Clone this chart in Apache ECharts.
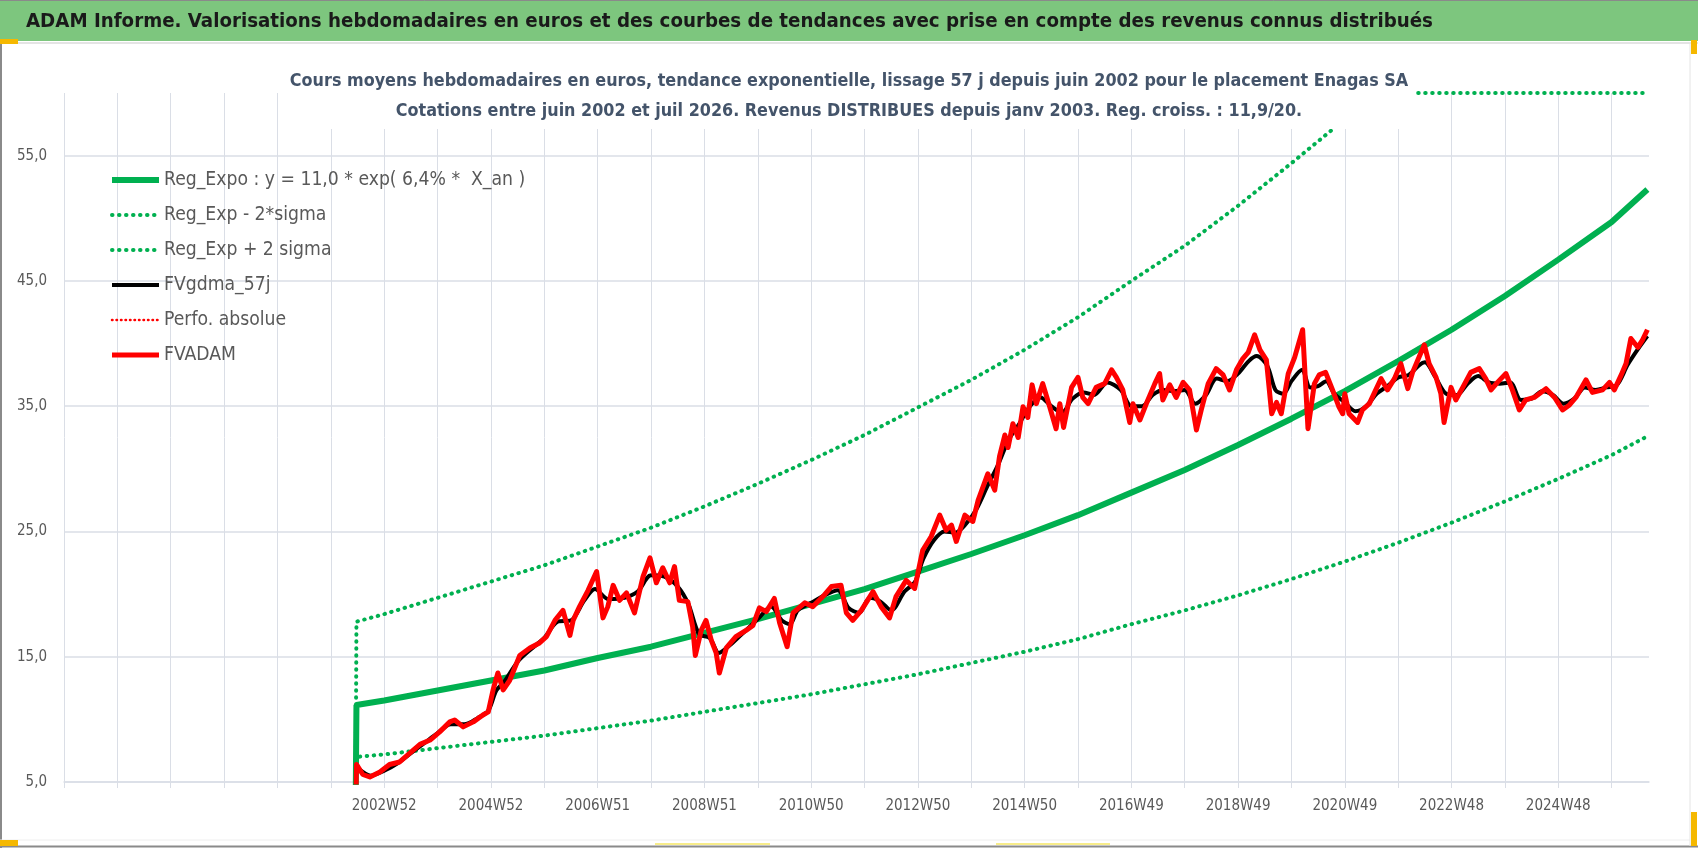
<!DOCTYPE html>
<html>
<head>
<meta charset="utf-8">
<title>ADAM Informe - Enagas SA</title>
<script src="https://cdn.jsdelivr.net/npm/echarts@6/dist/echarts.min.js"></script>
<style>
html, body { margin: 0; padding: 0; background: #fff; }
#chart { width: 1698px; height: 848px; }
</style>
</head>
<body>
<div id="chart"></div>
<script>
var FONT = "'DejaVu Sans Condensed', 'Liberation Sans', sans-serif";

// x positions are in years (one axis tick per year, like the 52-week ticks of the sheet)
var tickYears  = [2003, 2005, 2007, 2009, 2011, 2013, 2015, 2017, 2019, 2021, 2023, 2025];
var tickLabels = ['2002W52', '2004W52', '2006W51', '2008W51', '2010W50', '2012W50',
                  '2014W50', '2016W49', '2018W49', '2020W49', '2022W48', '2024W48'];

// trend curves (read at each yearly tick), first point = empty week at 0
var trendX   = [2002.46, 2002.48, 2003, 2004, 2005, 2006, 2007, 2008, 2009, 2010, 2011, 2012, 2013,
                2014, 2015, 2016, 2017, 2018, 2019, 2020, 2021, 2022, 2023, 2024, 2025, 2026, 2026.67];
var regExpo  = [0, 11.15, 11.5, 12.3, 13.1, 13.9, 14.9, 15.8, 16.9, 18.0, 19.2, 20.4, 21.8,
                23.2, 24.7, 26.3, 28.1, 29.9, 31.9, 34.0, 36.2, 38.6, 41.1, 43.8, 46.7, 49.7, 52.3];
var regLow   = [0, 7.0, 7.2, 7.7, 8.2, 8.7, 9.3, 9.9, 10.6, 11.3, 12.0, 12.8, 13.6,
                14.5, 15.4, 16.4, 17.6, 18.7, 19.9, 21.2, 22.6, 24.1, 25.7, 27.4, 29.2, 31.1, 32.6];
var regHigh  = [0, 17.8, 18.4, 19.7, 21.0, 22.3, 23.8, 25.3, 27.0, 28.8, 30.7, 32.7, 34.9,
                37.1, 39.5, 42.1, 45.0, 47.8, 51.0, 54.4, 57.9, 60, 60, 60, 60, 60, 60];

// FVADAM weekly valuation (sampled)
var adamX = [2002.46, 2002.48, 2002.6, 2002.73, 2002.92, 2003.1, 2003.29, 2003.48, 2003.67, 2003.86,
  2004.04, 2004.23, 2004.32, 2004.48, 2004.67, 2004.85, 2004.95, 2005.04, 2005.13, 2005.23, 2005.35,
  2005.54, 2005.73, 2005.91, 2006.04, 2006.2, 2006.35, 2006.48, 2006.54, 2006.66, 2006.82, 2006.98,
  2007.1, 2007.19, 2007.29, 2007.41, 2007.54, 2007.69, 2007.85, 2007.98, 2008.1, 2008.22, 2008.35,
  2008.44, 2008.53, 2008.69, 2008.78, 2008.83, 2008.94, 2009.03, 2009.13, 2009.22, 2009.28, 2009.41,
  2009.59, 2009.78, 2009.91, 2010.03, 2010.16, 2010.31, 2010.41, 2010.55, 2010.66, 2010.88, 2011.03,
  2011.22, 2011.38, 2011.56, 2011.66, 2011.78, 2011.94, 2012.16, 2012.31, 2012.47, 2012.59, 2012.78,
  2012.94, 2013.09, 2013.25, 2013.41, 2013.53, 2013.63, 2013.72, 2013.88, 2014.03, 2014.13, 2014.31,
  2014.44, 2014.53, 2014.63, 2014.69, 2014.78, 2014.88, 2014.97, 2015.06, 2015.14, 2015.22, 2015.34,
  2015.47, 2015.59, 2015.66, 2015.73, 2015.88, 2016.0, 2016.09, 2016.19, 2016.34, 2016.5, 2016.63,
  2016.72, 2016.84, 2016.97, 2017.03, 2017.16, 2017.31, 2017.44, 2017.53, 2017.59, 2017.72, 2017.84,
  2017.97, 2018.09, 2018.22, 2018.31, 2018.44, 2018.59, 2018.72, 2018.84, 2018.97, 2019.09, 2019.19,
  2019.31, 2019.41, 2019.53, 2019.63, 2019.72, 2019.81, 2019.94, 2020.06, 2020.21, 2020.31, 2020.43,
  2020.52, 2020.64, 2020.77, 2020.89, 2020.96, 2021.0, 2021.08, 2021.24, 2021.33, 2021.46, 2021.58,
  2021.68, 2021.8, 2021.93, 2022.05, 2022.18, 2022.27, 2022.39, 2022.49, 2022.58, 2022.71, 2022.8,
  2022.86, 2022.99, 2023.08, 2023.21, 2023.36, 2023.52, 2023.64, 2023.74, 2023.86, 2024.02, 2024.14,
  2024.27, 2024.39, 2024.55, 2024.77, 2024.93, 2025.08, 2025.21, 2025.33, 2025.52, 2025.64, 2025.83,
  2025.96, 2026.05, 2026.18, 2026.27, 2026.36, 2026.49, 2026.58, 2026.67];
var adamY = [0, 6.4, 5.6, 5.4, 5.8, 6.4, 6.6, 7.3, 8.0, 8.35,
  9.0, 9.8, 9.95, 9.4, 9.8, 10.35, 10.6, 12.35, 13.7, 12.35, 13.1,
  15.1, 15.7, 16.1, 16.6, 17.9, 18.7, 16.7, 17.9, 19.0, 20.3, 21.8,
  18.1, 19.0, 20.7, 19.5, 20.1, 18.5, 21.4, 22.9, 20.9, 22.1, 20.9,
  22.2, 19.5, 19.4, 17.4, 15.1, 17.1, 17.9, 16.3, 15.3, 13.7, 15.7,
  16.6, 17.1, 17.5, 18.9, 18.6, 19.65, 17.7, 15.8, 18.5, 19.3, 19.0,
  19.8, 20.6, 20.7, 18.5, 17.9, 18.7, 20.2, 19.0, 18.1, 19.8, 21.1,
  20.45, 23.5, 24.6, 26.3, 25.1, 25.5, 24.2, 26.3, 25.8, 27.5, 29.6,
  28.3, 31.0, 32.7, 31.7, 33.6, 32.5, 34.95, 34.1, 36.7, 35.2, 36.8,
  34.95, 33.2, 35.2, 33.3, 36.5, 37.3, 35.7, 35.2, 36.5, 36.8, 37.9,
  37.3, 36.3, 33.7, 35.2, 33.9, 35.5, 36.8, 37.6, 35.5, 36.7, 35.7,
  36.9, 36.3, 33.1, 34.7, 36.8, 38.0, 37.5, 36.3, 37.9, 38.8, 39.3,
  40.7, 39.5, 38.7, 34.4, 35.3, 34.4, 37.6, 38.9, 41.1, 33.2, 36.8,
  37.5, 37.7, 36.3, 34.95, 34.4, 36.0, 34.4, 33.7, 34.7, 35.2, 36.3,
  37.2, 36.3, 37.2, 38.4, 36.4, 37.7, 38.9, 39.9, 38.4, 37.3, 36.0,
  33.7, 36.5, 35.5, 36.5, 37.7, 38.0, 37.2, 36.3, 36.9, 37.6, 36.3,
  34.7, 35.5, 35.7, 36.4, 35.7, 34.7, 35.1, 35.7, 37.1, 36.1, 36.3,
  36.9, 36.3, 37.5, 38.4, 40.4, 39.7, 40.3, 41.1];

// FVgdma_57j smoothed valuation
var gdmaX = [2002.46, 2002.48, 2002.75, 2003.0, 2003.25, 2003.5, 2003.75, 2004.0, 2004.25, 2004.5,
  2004.75, 2004.95, 2005.1, 2005.25, 2005.5, 2005.75, 2006.0, 2006.25, 2006.5, 2006.75, 2006.95,
  2007.2, 2007.5, 2007.75, 2008.0, 2008.25, 2008.5, 2008.7, 2008.9, 2009.1, 2009.27, 2009.5, 2009.75,
  2010.0, 2010.25, 2010.45, 2010.6, 2010.75, 2011.0, 2011.25, 2011.5, 2011.7, 2011.9, 2012.1, 2012.3,
  2012.5, 2012.75, 2012.95, 2013.1, 2013.3, 2013.5, 2013.7, 2013.9, 2014.1, 2014.3, 2014.5, 2014.7,
  2014.9, 2015.1, 2015.3, 2015.5, 2015.7, 2015.9, 2016.1, 2016.3, 2016.55, 2016.8, 2017.0, 2017.2,
  2017.4, 2017.6, 2017.8, 2018.0, 2018.2, 2018.4, 2018.6, 2018.8, 2019.0, 2019.2, 2019.35, 2019.55,
  2019.7, 2019.85, 2020.0, 2020.2, 2020.35, 2020.5, 2020.65, 2020.8, 2021.0, 2021.2, 2021.4, 2021.6,
  2021.8, 2022.0, 2022.2, 2022.4, 2022.5, 2022.7, 2022.9, 2023.1, 2023.3, 2023.5, 2023.7, 2023.9,
  2024.1, 2024.3, 2024.5, 2024.7, 2024.9, 2025.1, 2025.3, 2025.5, 2025.7, 2025.9, 2026.1, 2026.3,
  2026.5, 2026.67];
var gdmaY = [0, 6.2, 5.5, 5.9, 6.5, 7.3, 8.1, 8.9, 9.6, 9.6,
  10.1, 10.7, 12.3, 13.0, 14.6, 15.6, 16.5, 17.8, 17.9, 19.5, 20.4,
  19.6, 19.7, 20.2, 21.5, 21.4, 20.6, 19.2, 16.8, 16.5, 15.3, 16.0, 17.0,
  18.0, 19.0, 17.9, 17.6, 18.7, 19.3, 19.9, 20.3, 18.9, 18.5, 19.7, 19.4,
  18.7, 20.2, 21.0, 22.8, 24.3, 25.0, 24.9, 25.6, 26.8, 28.6, 30.3, 32.3,
  33.6, 35.0, 35.7, 35.0, 34.5, 35.6, 36.1, 35.9, 36.9, 36.3, 35.0, 35.0,
  35.9, 36.3, 36.2, 36.3, 35.2, 35.9, 37.2, 37.0, 37.6, 38.6, 39.0, 38.2,
  36.3, 36.0, 37.0, 37.9, 36.5, 36.6, 37.0, 36.0, 35.3, 34.6, 35.0, 36.0,
  36.6, 37.3, 37.5, 38.3, 38.5, 37.3, 36.0, 35.9, 36.8, 37.4, 36.9, 36.8,
  36.9, 35.5, 35.6, 36.2, 35.9, 35.2, 35.6, 36.5, 36.3, 36.5, 36.7, 38.3,
  39.6, 40.6];

function zip(xs, ys) {
	return xs.map(function(x, i) { return [x, ys[i]]; });
}

var GREEN = '#00B050';
var GRID = '#dadee6';
var dots = [0.5, 6.5];

var myChart = echarts.init(document.getElementById('chart'));

var option = {
	animation: false,
	backgroundColor: '#fff',
	textStyle: { fontFamily: FONT },
	graphic: [
		{ type: 'rect', shape: { x: 0, y: 0, width: 1698, height: 41 }, style: { fill: '#7dc67e' } },
		{ type: 'line', shape: { x1: 0, y1: 0.5, x2: 1698, y2: 0.5 }, style: { stroke: '#8a8a8a', lineWidth: 1 } },
		{ type: 'line', shape: { x1: 0, y1: 43, x2: 1698, y2: 43 }, style: { stroke: '#e4e4e4', lineWidth: 2 } },
		{ type: 'line', shape: { x1: 1, y1: 44, x2: 1, y2: 848 }, style: { stroke: '#8a8a8a', lineWidth: 2 } },
		{ type: 'line', shape: { x1: 0, y1: 846.5, x2: 1698, y2: 846.5 }, style: { stroke: '#8a8a8a', lineWidth: 2 } },
		{ type: 'line', shape: { x1: 0, y1: 840, x2: 1690, y2: 840 }, style: { stroke: '#eeeeee', lineWidth: 1 } },
		{ type: 'line', shape: { x1: 1690, y1: 44, x2: 1690, y2: 846 }, style: { stroke: '#e4e4e4', lineWidth: 1 } },
		{ type: 'rect', shape: { x: 0, y: 39, width: 18, height: 5 }, style: { fill: '#f5b800' } },
		{ type: 'rect', shape: { x: 0, y: 840, width: 18, height: 6 }, style: { fill: '#f5b800' } },
		{ type: 'rect', shape: { x: 1691, y: 40, width: 6, height: 14 }, style: { fill: '#f5b800' } },
		{ type: 'rect', shape: { x: 1691, y: 812, width: 6, height: 34 }, style: { fill: '#f5b800' } },
		{ type: 'line', shape: { x1: 655, y1: 844, x2: 770, y2: 844 }, style: { stroke: '#f7ec8a', lineWidth: 2 } },
		{ type: 'line', shape: { x1: 996, y1: 844, x2: 1110, y2: 844 }, style: { stroke: '#f7ec8a', lineWidth: 2 } }
	],
	title: [{
		text: 'ADAM Informe. Valorisations hebdomadaires en euros et des courbes de tendances avec prise en compte des revenus connus distribués',
		left: 26,
		top: 12,
		padding: 0,
		textStyle: { fontFamily: FONT, fontSize: 20.3, fontWeight: 'bold', color: '#1a1a1a' }
	}, {
		text: 'Cours moyens hebdomadaires en euros, tendance exponentielle, lissage 57 j depuis juin 2002 pour le placement Enagas SA\n' +
			'Cotations entre juin 2002 et juil 2026. Revenus DISTRIBUES depuis janv 2003. Reg. croiss. : 11,9/20.',
		left: 'center',
		top: 64,
		padding: [2, 6, 3, 6],
		backgroundColor: '#fff',
		textStyle: { fontFamily: FONT, fontSize: 17.8, fontWeight: 'bold', color: '#44546A', lineHeight: 30 }
	}],
	legend: {
		orient: 'vertical',
		left: 104,
		top: 163,
		itemWidth: 47,
		itemHeight: 14,
		itemGap: 11,
		itemStyle: { opacity: 0 },
		data: [
			{ name: 'Reg_Expo : y = 11,0 * exp( 6,4% *  X_an )', lineStyle: { color: GREEN, width: 6 } },
			{ name: 'Reg_Exp - 2*sigma', lineStyle: { color: GREEN, width: 4, type: dots, cap: 'round' } },
			{ name: 'Reg_Exp + 2 sigma', lineStyle: { color: GREEN, width: 4, type: dots, cap: 'round' } },
			{ name: 'FVgdma_57j', lineStyle: { color: '#000', width: 4 } },
			{ name: 'Perfo. absolue', lineStyle: { color: '#ff0000', width: 2.5, type: [0.5, 4], cap: 'round' } },
			{ name: 'FVADAM', lineStyle: { color: '#ff0000', width: 5 } }
		],
		textStyle: { fontFamily: FONT, fontSize: 19.2, color: '#595959', lineHeight: 24 }
	},
	grid: {
		left: 64,
		right: 49,
		top: 93,
		bottom: 66,
		outerBoundsMode: 'none'
	},
	xAxis: {
		type: 'value',
		min: 1997,
		max: 2026.7,
		interval: 1,
		axisLine: { show: true, lineStyle: { color: GRID, width: 1.5 } },
		axisTick: { show: true, length: 6, lineStyle: { color: GRID } },
		splitLine: { show: true, showMaxLine: false, lineStyle: { color: GRID, width: 1 } },
		axisLabel: {
			margin: 17,
			fontFamily: FONT,
			fontSize: 15,
			color: '#595959',
			showMaxLabel: false,
			formatter: function(v) {
				var i = tickYears.indexOf(Math.round(v * 100) / 100);
				return i >= 0 ? tickLabels[i] : '';
			}
		}
	},
	yAxis: {
		type: 'value',
		min: 5,
		max: 60,
		interval: 5,
		axisLine: { show: false },
		axisTick: { show: false },
		splitLine: { show: true, lineStyle: { color: [GRID, 'rgba(0,0,0,0)'], width: 1.5 } },
		axisLabel: {
			margin: 17,
			fontFamily: FONT,
			fontSize: 15,
			color: '#595959',
			formatter: function(v) {
				return v % 10 === 5 ? v.toFixed(1).replace('.', ',') : '';
			}
		}
	},
	series: [{
		name: 'Reg_Expo : y = 11,0 * exp( 6,4% *  X_an )',
		type: 'line',
		symbol: 'none',
		data: zip(trendX, regExpo),
		lineStyle: { color: GREEN, width: 6 },
		itemStyle: { color: GREEN }
	}, {
		name: 'Reg_Exp - 2*sigma',
		type: 'line',
		symbol: 'none',
		data: zip(trendX, regLow),
		lineStyle: { color: GREEN, width: 4, type: dots, cap: 'round' },
		itemStyle: { color: GREEN }
	}, {
		name: 'Reg_Exp + 2 sigma',
		type: 'line',
		symbol: 'none',
		data: zip(trendX, regHigh),
		lineStyle: { color: GREEN, width: 4, type: dots, cap: 'round' },
		itemStyle: { color: GREEN }
	}, {
		name: 'FVgdma_57j',
		type: 'line',
		symbol: 'none',
		smooth: 0.3,
		data: zip(gdmaX, gdmaY),
		lineStyle: { color: '#000', width: 4 },
		itemStyle: { color: '#000' }
	}, {
		name: 'Perfo. absolue',
		type: 'line',
		symbol: 'none',
		data: [],
		lineStyle: { color: '#ff0000', width: 2.5, type: [0.5, 4], cap: 'round' },
		itemStyle: { color: '#ff0000' }
	}, {
		name: 'FVADAM',
		type: 'line',
		symbol: 'none',
		data: zip(adamX, adamY),
		lineStyle: { color: '#ff0000', width: 5, join: 'round' },
		itemStyle: { color: '#ff0000' }
	}]
};

myChart.setOption(option);

window.addEventListener('resize', function() {
	myChart.resize();
});
</script>
</body>
</html>
